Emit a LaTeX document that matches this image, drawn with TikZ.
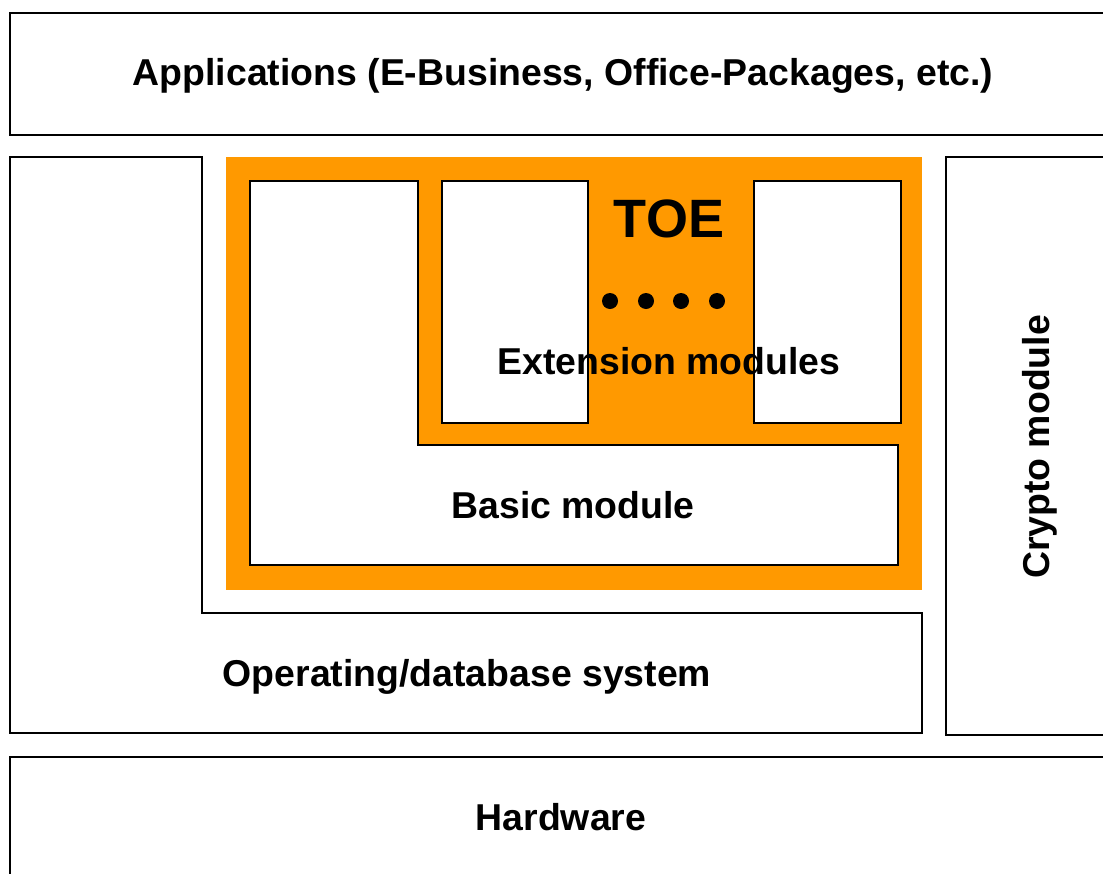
\documentclass[tikz,border=0pt]{standalone}
\usepackage{fontspec}
\setmainfont{Liberation Sans}
\definecolor{toeorange}{HTML}{FF9900}

\begin{document}
\begin{tikzpicture}[x=1pt,y=-1pt,line width=1.8pt,
    layer/.style={anchor=base,font=\bfseries\fontsize{37.4}{44}\selectfont},
    toelabel/.style={anchor=base,font=\bfseries\fontsize{54}{62}\selectfont}]

        \useasboundingbox (0,0) rectangle (1103,873);

        % surrounding layers
        \draw (10,13) rectangle (1115,135);
        \draw (10,157) -- (202,157) -- (202,613) -- (922,613) -- (922,733) -- (10,733) -- cycle;
        \draw (946,157) rectangle (1115,735);
        \draw (10,757) rectangle (1115,885);

        % target of evaluation
        \fill[toeorange] (226,157) rectangle (922,590);
        \draw[fill=white] (250,181) -- (418,181) -- (418,445) -- (898,445) -- (898,565) -- (250,565) -- cycle;
        \draw[fill=white] (442,181) rectangle (588,423);
        \draw[fill=white] (754,181) rectangle (901,423);
        \foreach \x in {610,646,681,717}
          \fill (\x,301) circle (8);

        \begin{scope}[every node/.style={layer}]
          \node (apps)   at (563,85)  {Applications (E-Business, Office-Packages, etc.)};
          \node (ext)    at (669,374) {Extension modules};
          \node (basic)  at (573,518) {Basic module};
          \node (os)     at (467,686) {Operating/database system};
          \node (hw)     at (561,830) {Hardware};
          \node[rotate=90] (crypto) at (1049,447) {Crypto module};
        \end{scope}
        \node[toelabel] (toe) at (669,237) {TOE};

      \end{tikzpicture}
\end{document}
